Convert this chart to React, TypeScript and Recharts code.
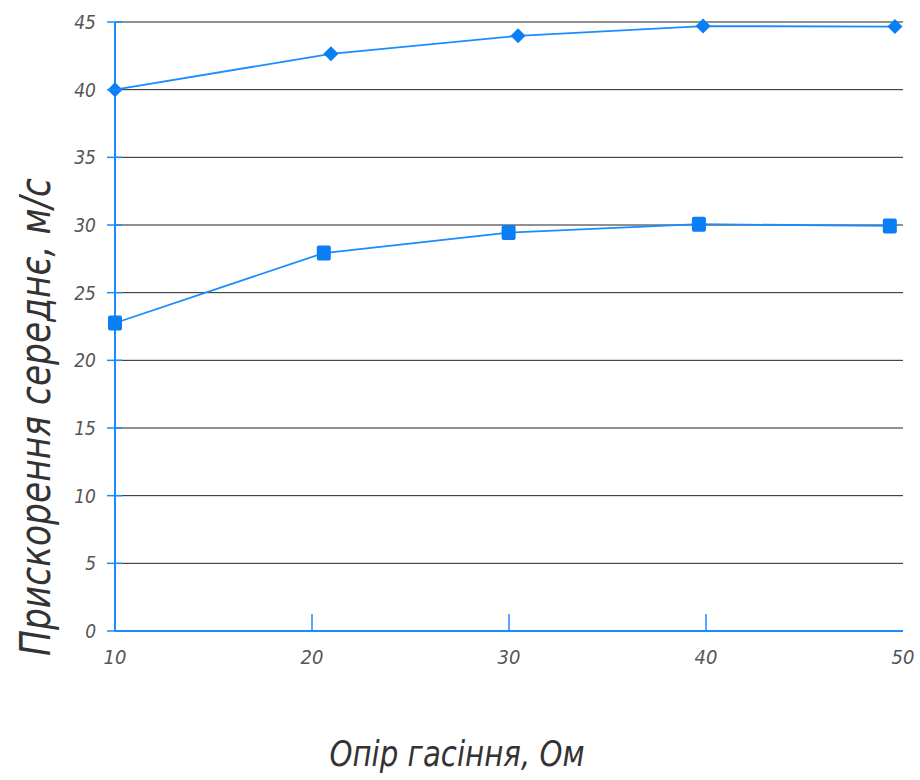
import React from "react";
import {
  LineChart,
  Line,
  XAxis,
  YAxis,
  CartesianGrid,
  Label,
} from "recharts";

// Опір гасіння (Ом) / прискорення (м/с) — верхня крива (ромби)
const diamondX = [10, 20.96, 30.46, 39.85, 49.59];
const diamondY = [40, 42.65, 43.98, 44.7, 44.66];

// нижня крива (квадрати)
const squareX = [10, 20.6, 29.98, 39.64, 49.33];
const squareY = [22.76, 27.93, 29.44, 30.06, 29.93];

const xTicks = [10, 20, 30, 40, 50];
const yTicks = [0, 5, 10, 15, 20, 25, 30, 35, 40, 45];

const xTitle = "Опір гасіння, Ом";
const yTitle = "Прискорення середнє, м/с";

const diamondData = diamondX.map((x, i) => ({ x, v: diamondY[i] }));
const squareData = squareX.map((x, i) => ({ x, v: squareY[i] }));

const BLUE = "#1a8cff";
const MARK = "#0a7ef5";
const FONT = "'Liberation Sans Narrow', 'DejaVu Sans Condensed', sans-serif";

const DiamondDot = (props: any) => {
  const { cx, cy } = props;
  if (cx == null || cy == null) return null;
  const r = 7.5;
  return (
    <polygon
      points={`${cx},${cy - r} ${cx + r},${cy} ${cx},${cy + r} ${cx - r},${cy}`}
      fill={MARK}
    />
  );
};

const SquareDot = (props: any) => {
  const { cx, cy } = props;
  if (cx == null || cy == null) return null;
  return (
    <rect x={cx - 7} y={cy - 7.5} width={14} height={15} rx={2} fill={MARK} />
  );
};

const XTick = (props: any) => {
  const { x, y, payload } = props;
  const v = payload.value;
  const showLine = v !== 10 && v !== 50;
  return (
    <g>
      {showLine && (
        <line x1={x} x2={x} y1={y - 20} y2={y - 37} stroke={BLUE} strokeWidth={1.5} />
      )}
      <text
        x={x}
        y={y + 13}
        textAnchor="middle"
        fontFamily={FONT}
        fontStyle="italic"
        fontSize={20}
        fill="#555"
      >
        {v}
      </text>
    </g>
  );
};

const YTick = (props: any) => {
  const { x, y, payload } = props;
  return (
    <g>
      <line x1={x + 10} x2={x + 25} y1={y} y2={y} stroke={BLUE} strokeWidth={1.5} />
      <text
        x={x - 1}
        y={y + 7}
        textAnchor="end"
        fontFamily={FONT}
        fontStyle="italic"
        fontSize={19}
        fill="#555"
      >
        {payload.value}
      </text>
    </g>
  );
};

const App: React.FC = () => {
  return (
    <div style={{ position: "absolute", left: 0, top: 0, background: "#fff" }}>
      <LineChart
        width={920}
        height={780}
        margin={{ top: 22, right: 17, left: 0, bottom: 0 }}
      >
        <CartesianGrid
          horizontal
          vertical={false}
          stroke="#222"
          strokeWidth={1}
          horizontalValues={yTicks.filter((t) => t > 0)}
        />
        <XAxis
          type="number"
          dataKey="x"
          domain={[10, 50]}
          ticks={xTicks}
          height={149}
          axisLine={{ stroke: BLUE, strokeWidth: 2 }}
          tickLine={false}
          tickSize={0}
          tickMargin={20}
          tick={<XTick />}
          allowDuplicatedCategory={false}
        >
          <Label
            content={() => (
              <text
                x={457}
                y={766}
                textAnchor="middle"
                fontFamily={FONT}
                fontStyle="italic"
                fontSize={36}
                fill="#333"
                textLength={255}
                lengthAdjust="spacingAndGlyphs"
              >
                {xTitle}
              </text>
            )}
          />
        </XAxis>
        <YAxis
          type="number"
          domain={[0, 45]}
          ticks={yTicks}
          width={115}
          axisLine={{ stroke: BLUE, strokeWidth: 2 }}
          tickLine={false}
          tickSize={0}
          tickMargin={18}
          tick={<YTick />}
        >
          <Label
            content={() => (
              <text
                x={50}
                y={417}
                transform="rotate(-90 50 417)"
                textAnchor="middle"
                fontFamily={FONT}
                fontStyle="italic"
                fontSize={42}
                fill="#333"
                textLength={478}
                lengthAdjust="spacingAndGlyphs"
              >
                {yTitle}
              </text>
            )}
          />
        </YAxis>
        <Line
          data={diamondData}
          dataKey="v"
          type="linear"
          stroke={BLUE}
          strokeWidth={1.8}
          dot={<DiamondDot />}
          activeDot={false}
          isAnimationActive={false}
        />
        <Line
          data={squareData}
          dataKey="v"
          type="linear"
          stroke={BLUE}
          strokeWidth={1.8}
          dot={<SquareDot />}
          activeDot={false}
          isAnimationActive={false}
        />
      </LineChart>
    </div>
  );
};

export default App;
